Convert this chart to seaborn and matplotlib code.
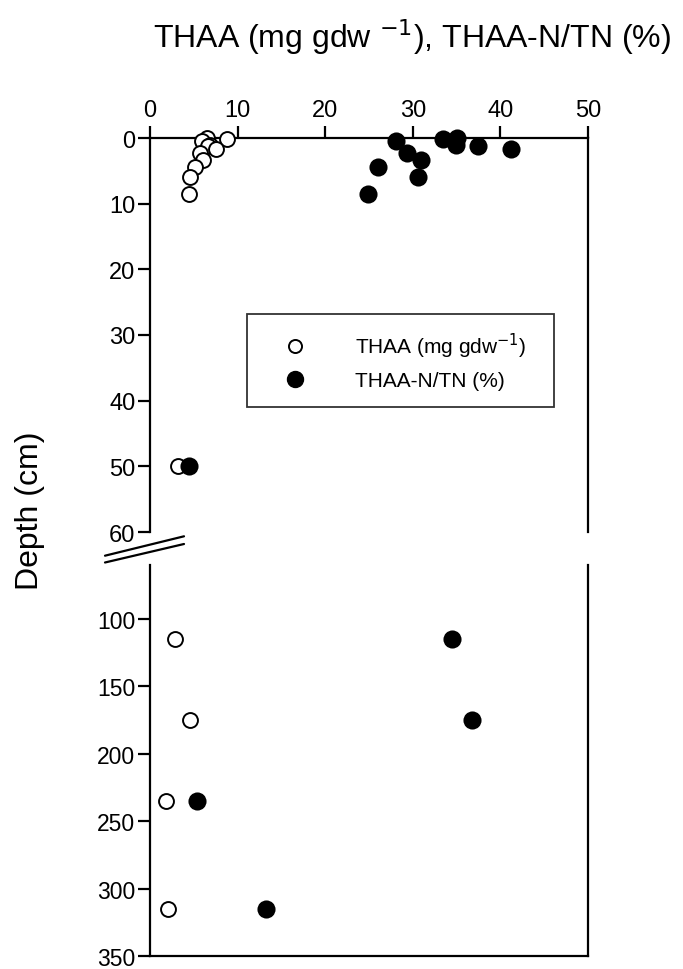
import numpy as np
import pandas as pd
import matplotlib
matplotlib.use('Agg')
import matplotlib.pyplot as plt
from matplotlib.lines import Line2D
import seaborn as sns

sns.set_style('ticks')
plt.rcParams['font.family'] = ['Liberation Sans', 'DejaVu Sans']
plt.rcParams['text.color'] = 'black'

# surface section (0-60 cm)
depth_top = [0, 0.2, 0.5, 1.0, 1.2, 1.6, 2.3, 3.4, 4.4, 5.9, 8.5, 50]
thaa_top = [6.5, 8.75, 5.9, 6.8, 6.6, 7.5, 5.7, 6.1, 5.1, 4.6, 4.5, 3.2]
thaan_top = [35.0, 33.5, 28.1, 34.9, 37.4, 41.2, 29.3, 30.9, 26.0, 30.6, 24.9, 4.4]

# deep section (60-350 cm)
depth_bot = [115, 175, 235, 315]
thaa_bot = [2.85, 4.6, 1.8, 2.0]
thaan_bot = [34.5, 36.8, 5.4, 13.2]

top = pd.DataFrame({'depth': depth_top, 'thaa': thaa_top, 'thaan': thaan_top})
bot = pd.DataFrame({'depth': depth_bot, 'thaa': thaa_bot, 'thaan': thaan_bot})

W, H = 683, 970
fig = plt.figure(figsize=(W / 100, H / 100), dpi=100)
ax1 = fig.add_axes([150 / W, 1 - 533 / H, 438 / W, 394 / H])
ax2 = fig.add_axes([150 / W, 1 - 957 / H, 438 / W, 391 / H])

open_kw = dict(marker='o', facecolor='white', edgecolor='black', linewidth=1.4, clip_on=False, zorder=3)
fill_kw = dict(marker='o', color='black', edgecolor='black', linewidth=0, clip_on=False, zorder=3)

for ax, d in [(ax1, top), (ax2, bot)]:
    sns.scatterplot(data=d, x='thaa', y='depth', s=115, ax=ax, **open_kw)
    sns.scatterplot(data=d, x='thaan', y='depth', s=170, ax=ax, **fill_kw)
    ax.set_xlim(0, 50)
    ax.set_xlabel('')
    ax.set_ylabel('')
    for sp in ax.spines.values():
        sp.set_linewidth(1.6)
        sp.set_color('black')
    ax.tick_params(labelsize=17, width=1.6, length=8.5, pad=2, colors='black', direction='out')

ax1.set_ylim(60, 0)
ax1.set_yticks(np.arange(0, 61, 10))
ax1.xaxis.tick_top()
ax1.set_xticks(np.arange(0, 51, 10))
ax1.spines['bottom'].set_visible(False)
ax1.tick_params(axis='x', pad=4)

ax2.set_ylim(350, 60)
ax2.set_yticks(np.arange(100, 351, 50))
ax2.set_xticks([])
ax2.spines['top'].set_visible(False)
ax2.tick_params(axis='y', labelsize=16.5)

handles = [
    Line2D([], [], marker='o', linestyle='', markersize=9.4, markerfacecolor='white',
           markeredgecolor='black', markeredgewidth=1.4),
    Line2D([], [], marker='o', linestyle='', markersize=11.5, markerfacecolor='black',
           markeredgecolor='black'),
]
leg = ax1.legend(handles, ['THAA (mg gdw$^{-1}$)', 'THAA-N/TN (%)'],
                 loc='upper left', bbox_to_anchor=(97 / 438, 1 - 176 / 394, 307 / 438, 0.0),
                 mode='expand', fontsize=15,
                 frameon=True, fancybox=False, edgecolor='black', borderpad=0.8,
                 labelspacing=0.55, handletextpad=1.4, borderaxespad=0, handlelength=3.0)
leg.get_frame().set_linewidth(1.3)

# axis break marks
for y0, y1 in [(556.7, 537.3), (563.5, 545.0)]:
    fig.add_artist(Line2D([105 / W, 184 / W], [1 - y0 / H, 1 - y1 / H],
                          color='black', linewidth=1.6, transform=fig.transFigure))

fig.text(412 / W, 1 - 37 / H, 'THAA (mg gdw $^{-1}$), THAA-N/TN (%)',
         ha='center', va='center', fontsize=23)
fig.text(30 / W, 1 - 511 / H, 'Depth (cm)', rotation=90, ha='center', va='center', fontsize=23)

fig.savefig('out.png', dpi=100)
